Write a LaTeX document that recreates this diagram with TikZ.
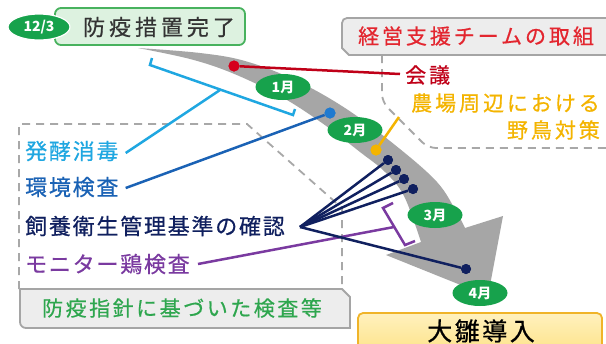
\documentclass[tikz,border=0pt]{standalone}
\usepackage{fontspec}
\usetikzlibrary{shapes.geometric}
\newfontfamily\jpA{Noto Sans CJK JP}[LetterSpace=8,FakeBold=0.6]
\newfontfamily\jpB{Noto Sans CJK JP}[LetterSpace=14,FakeBold=0.6]
\newfontfamily\jpC{Noto Sans CJK JP}[LetterSpace=18,FakeBold=0.6]
\newfontfamily\jpD{Noto Sans CJK JP}[LetterSpace=12,FakeBold=0.6]
\newfontfamily\jpE{Noto Sans CJK JP}[LetterSpace=10,FakeBold=0.8]
\newfontfamily\jpM{Noto Sans CJK JP}
\newcommand\myfs[1]{\fontsize{#1bp}{#1bp}\selectfont}
\definecolor{ggreen}{HTML}{17A24C}
\definecolor{boxgreenfill}{HTML}{DDF2E0}
\definecolor{boxgreenline}{HTML}{48B25E}
\definecolor{redt}{HTML}{E3262F}
\definecolor{dred}{HTML}{C00018}
\definecolor{reddot}{HTML}{D6001C}
\definecolor{gold}{HTML}{F4B400}
\definecolor{cyanl}{HTML}{1FA7E1}
\definecolor{bluel}{HTML}{1A62B5}
\definecolor{bluedot}{HTML}{1F7AD0}
\definecolor{navy}{HTML}{10205F}
\definecolor{purp}{HTML}{7A3AA0}
\definecolor{greent}{HTML}{2EA64E}
\definecolor{arrowgray}{HTML}{A6A6A6}
\definecolor{boxfill}{HTML}{EDEDED}
\definecolor{boxline}{HTML}{A5A5A5}
\definecolor{dashgray}{HTML}{A8A8A8}
\definecolor{yelfill}{HTML}{FDE38A}
\definecolor{yeltop}{HTML}{FFF1BE}
\definecolor{yelline}{HTML}{F0B429}
\begin{document}
\begin{tikzpicture}[x=1bp,y=-1bp,
  dsh/.style={draw=dashgray,line width=1.8bp,dash pattern=on 8bp off 6bp},
  graybox/.style={draw=boxline,fill=boxfill,line width=1.8bp},
  month/.style={ellipse,fill=ggreen,minimum width=55bp,minimum height=26bp,inner sep=0,
     text=white,font=\jpM\bfseries\myfs{14}},
  dotn/.style={circle,inner sep=0,minimum size=11bp},
  conn/.style={line width=2.5bp},
  lbl/.style={inner sep=0,anchor=west,font=\jpA\myfs{22}}]
\clip (0,0) rectangle (606,343);
\fill[white] (0,0) rectangle (606,343);

% dashed outlines
\draw[dsh] (19,289) -- (19,124) -- (247,124) -- (342,208) -- (342,289);
\draw[dsh,rounded corners=8bp] (382,55) -- (382,102) -- (428,148) -- (612,148);

% big curved arrow
\fill[arrowgray] plot[smooth,tension=0.6] coordinates {(138,48) (200,53) (245,61) (295,80) (345,108) (395,145) (437,182) (457,213) (465,228)}
  -- (503,216) -- (488,296) -- (386,255) -- (421,242)
  -- plot[smooth,tension=0.6] coordinates {(421,242) (404,196) (385,172) (360,152) (322,123) (280,96) (232,73) (190,59) (138,48)} -- cycle;

% boxes
\draw[graybox] (612,55) -- (349,55) -- (342,48) [rounded corners=5bp] -- (342,18) -- (612,18) -- cycle;
\node[inner sep=0,text=redt,font=\jpB\myfs{21}] (team) at (476,36) {経営支援チームの取組};

\draw[graybox] (20,289) -- (342,289) -- (350,297) -- (350,328) [rounded corners=6bp] -- (20,328) -- (20,289);
\node[inner sep=0,text=greent,font=\jpD\myfs{21}] (kensa) at (182,308) {防疫指針に基づいた検査等};

\draw[line width=1.8bp,draw=yelline,top color=yeltop,bottom color=yelfill,rounded corners=5bp] (358,313) rectangle (602,352);
\node[inner sep=0,font=\jpE\myfs{25}] (hina) at (481,331) {大雛導入};

\draw[line width=1.8bp,draw=boxgreenline,fill=boxgreenfill,rounded corners=6bp] (55,8) rectangle (245,45);
\node[inner sep=0,text=black!80,font=\jpC\myfs{22}] (kanryo) at (159,27) {防疫措置完了};
\node[month,minimum width=62bp,minimum height=26bp,draw=white,line width=1.2bp] (d123) at (39,27) {12/3};

% labels
\node[lbl,text=cyanl] (hakko) at (25,151) {発酵消毒};
\node[lbl,text=bluel] (kankyo) at (25,187) {環境検査};
\node[lbl,text=navy] (shiyo) at (25,226) {飼養衛生管理基準の確認};
\node[lbl,text=purp] (moni) at (25,264) {モニター鶏検査};
\node[inner sep=0,anchor=west,text=dred,font=\jpB\myfs{21}] (kaigi) at (405,75) {会議};
\node[inner sep=0,anchor=east,text=gold,font=\jpB\myfs{21}] (nojo1) at (600,103) {農場周辺における};
\node[inner sep=0,anchor=east,text=gold,font=\jpB\myfs{21}] (nojo2) at (600,130) {野鳥対策};

% cyan bracket
\coordinate (cb1) at (152,58);
\coordinate (cb2) at (150,65);
\coordinate (cb3) at (293,115);
\coordinate (cb4) at (295,109);
\coordinate (cbm) at (220,90);
\draw[conn,draw=cyanl] (cb1) -- (cb2) -- (cb3) -- (cb4);
\draw[conn,draw=cyanl] (cbm) -- ([xshift=7bp,yshift=-2bp]hakko.east);

% purple bracket
\coordinate (pb1) at (393,203);
\coordinate (pb2) at (383,208);
\coordinate (pb3) at (405,245);
\coordinate (pb4) at (415,241);
\coordinate (pbm) at (394,227);
\draw[conn,draw=purp] (pb1) -- (pb2) -- (pb3) -- (pb4);
\draw[conn,draw=purp] ([xshift=8bp]moni.east) -- (pbm);

% dots
\node[dotn,fill=reddot] (rdot) at (234,66) {};
\node[dotn,fill=bluedot] (bdot) at (330,113) {};
\node[dotn,fill=gold] (ydot) at (376,150) {};
\coordinate (yend) at (399,117);
\coordinate (kend) at (400,74);
\node[dotn,fill=navy,minimum size=10bp] (n1) at (388,160) {};
\node[dotn,fill=navy,minimum size=10bp] (n2) at (396,170) {};
\node[dotn,fill=navy,minimum size=10bp] (n3) at (404,179) {};
\node[dotn,fill=navy,minimum size=10bp] (n4) at (413,189) {};
\node[dotn,fill=navy,minimum size=10bp] (n5) at (466,269) {};
\coordinate (nv) at (300,227);

\draw[conn,draw=dred] (rdot) -- (kend);
\draw[conn,draw=bluel] (bdot) -- ([xshift=7bp,yshift=-1bp]kankyo.east);
\draw[conn,draw=gold] (ydot) -- (yend);
\foreach \n in {n1,n2,n3,n4,n5} \draw[conn,draw=navy] (nv) -- (\n);

% redraw dots on top
\node[dotn,fill=reddot] at (rdot) {};
\node[dotn,fill=bluedot] at (bdot) {};
\node[dotn,fill=gold] at (ydot) {};
\foreach \n in {n1,n2,n3,n4,n5} \node[dotn,fill=navy,minimum size=10bp] at (\n) {};

% months
\node[month] (m1) at (283,87) {1月};
\node[month] (m2) at (355,130) {2月};
\node[month] (m3) at (435,215) {3月};
\node[month] (m4) at (480,293) {4月};
\end{tikzpicture}
\end{document}
